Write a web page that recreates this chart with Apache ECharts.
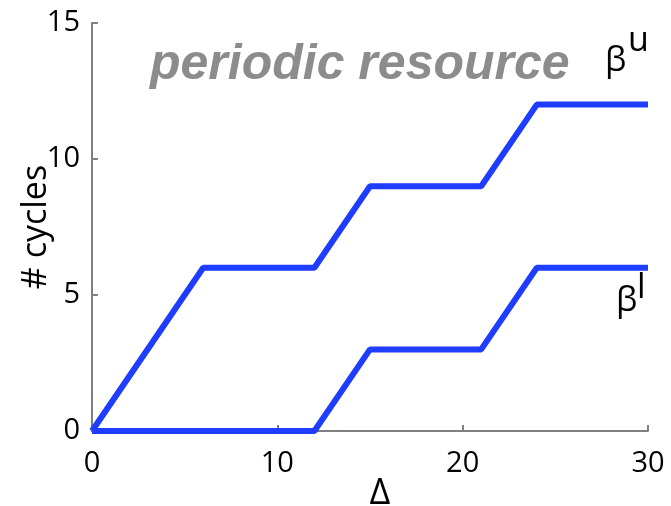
<!DOCTYPE html>
<html>
<head>
<meta charset="utf-8">
<script src="https://cdn.jsdelivr.net/npm/echarts@6/dist/echarts.min.js"></script>
<style>html,body{margin:0;padding:0;background:#fff;}#c{width:671px;height:506px;}</style>
</head>
<body>
<div id="c"></div>
<script>
var upperX = [0, 6, 12, 15, 21, 24, 30];
var upperY = [0, 6, 6, 9, 9, 12, 12];
var lowerX = [0, 12, 15, 21, 24, 30];
var lowerY = [0, 0, 3, 3, 6, 6];
var xTicks = [0, 10, 20, 30];
var yTicks = [0, 5, 10, 15];
var titleText = 'periodic resource';

function pairs(xs, ys) { return xs.map(function (x, i) { return [x, ys[i]]; }); }

var chart = echarts.init(document.getElementById('c'));
var lblFont = '"Open Sans", sans-serif';
function txt(x, y, s) {
  return { type: 'text', x: x, y: y, style: { text: s, fontFamily: lblFont, fontSize: 34, fill: '#000', verticalAlign: 'middle', align: 'left' } };
}
chart.setOption({
  animation: false,
  grid: { left: 92, right: 23, top: 23, bottom: 75, outerBoundsMode: 'none', containLabel: false },
  xAxis: {
    type: 'value', min: 0, max: 30, interval: 10,
    name: 'Δ', nameLocation: 'middle', nameGap: 45, nameMoveOverlap: false,
    nameTextStyle: { fontFamily: lblFont, fontSize: 36, color: '#000', padding: [0, 0, 0, 20] },
    axisLine: { show: true, lineStyle: { color: '#808080', width: 2 } },
    axisTick: { show: true, inside: true, length: 6, lineStyle: { color: '#808080', width: 2 } },
    axisLabel: { fontFamily: lblFont, fontSize: 29, color: '#000', margin: 18 },
    splitLine: { show: false }
  },
  yAxis: {
    type: 'value', min: 0, max: 15, interval: 5,
    name: '# cycles', nameLocation: 'middle', nameGap: 39, nameRotate: 90, nameMoveOverlap: false,
    nameTextStyle: { fontFamily: lblFont, fontSize: 34, color: '#000' },
    axisLine: { show: true, lineStyle: { color: '#808080', width: 2 } },
    axisTick: { show: true, inside: true, length: 6, lineStyle: { color: '#808080', width: 2 } },
    axisLabel: { fontFamily: lblFont, fontSize: 29, color: '#000', margin: 12 },
    splitLine: { show: false }
  },
  graphic: [
    { type: 'text', left: 150, top: 40, style: { text: titleText, fontFamily: '"Liberation Sans", Arial, sans-serif', fontWeight: 'bold', fontStyle: 'italic', fontSize: 50, fill: '#8c8c8c' } },
    txt(605, 61, 'β'), txt(628, 41, 'u'),
    txt(616, 301, 'β'), txt(637, 288, 'l')
  ],
  series: [
    { type: 'line', data: pairs(upperX, upperY), showSymbol: false, lineStyle: { color: '#1f3dff', width: 6 }, z: 3 },
    { type: 'line', data: pairs(lowerX, lowerY), showSymbol: false, lineStyle: { color: '#1f3dff', width: 6 }, z: 3 }
  ]
});
</script>
</body>
</html>
